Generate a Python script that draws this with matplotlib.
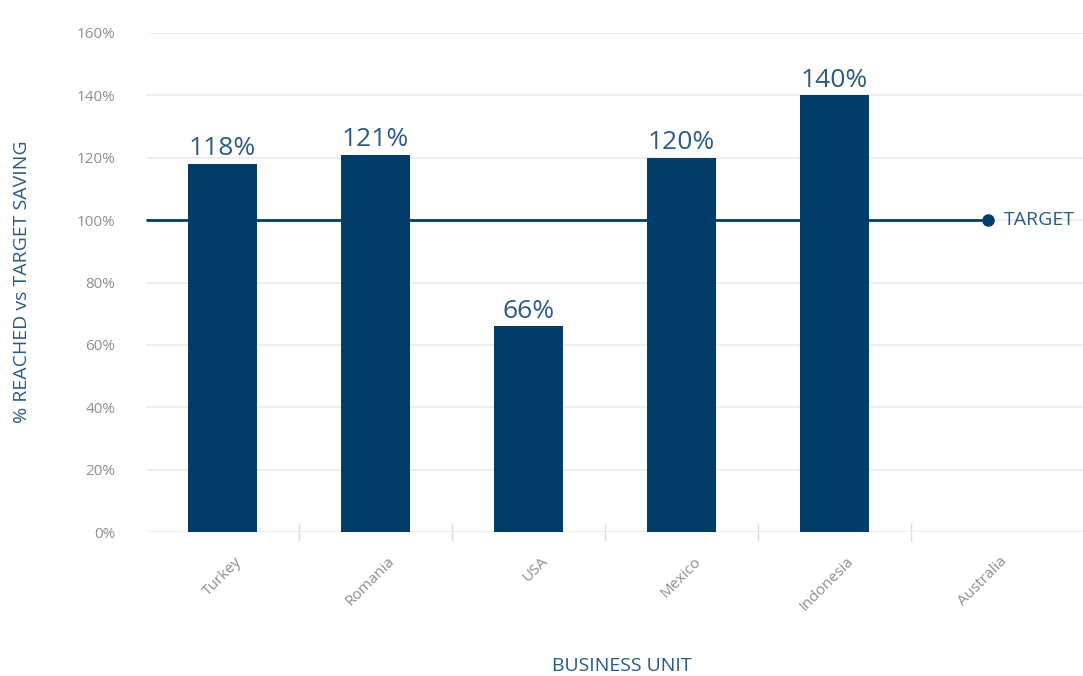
import matplotlib.pyplot as plt
import matplotlib.transforms as mtransforms
import numpy as np

plt.rcParams['font.family'] = ['Open Sans', 'DejaVu Sans']

# data
units = ['Turkey', 'Romania', 'USA', 'Mexico', 'Indonesia', 'Australia']
reached = [118, 121, 66, 120, 140, np.nan]
target = 100

navy = '#023d6a'
label_blue = '#2b5a85'
grid_gray = '#ebebeb'
tick_gray = '#8f8f8f'

fig = plt.figure(figsize=(10.83, 6.76), dpi=100)
ax = fig.add_axes([146 / 1083, 1 - 532 / 676, 937 / 1083, 499 / 676])

x = np.arange(len(units))
vals = np.array(reached, dtype=float)
has = ~np.isnan(vals)
bars = ax.bar(x[has], vals[has], width=0.45, color=navy, zorder=3)
for b, v in zip(bars, vals[has]):
    ax.text(b.get_x() + b.get_width() / 2, v + 0.8, f'{v:.0f}%', ha='center', va='bottom',
            fontsize=19, color=label_blue, zorder=4)

# target line with end marker
ax.plot([-0.5, 5.0], [target, target], color=navy, lw=2, zorder=2, solid_capstyle='butt')
ax.plot([5.0], [target], 'o', color=navy, ms=8, zorder=4)
ax.text(5.11, target, 'TARGET', va='center', ha='left', fontsize=14, color=label_blue)

ax.set_xlim(-0.5, 5.5 + 19 / 153)
ax.set_ylim(0, 160)
ax.set_yticks(np.arange(0, 161, 20))
ax.set_yticklabels([f'{t}%' for t in range(0, 161, 20)])
ax.yaxis.grid(True, color=grid_gray, lw=1.2, zorder=0)
ax.set_axisbelow(True)

ax.set_xticks(x)
ax.set_xticklabels(units, rotation=45, ha='right', rotation_mode='anchor')
ax.set_xticks(np.arange(0.5, 5.0, 1.0), minor=True)
ax.tick_params(axis='x', which='major', length=0, pad=20, labelsize=11, labelcolor=tick_gray)
ax.tick_params(axis='x', which='minor', direction='inout', length=13, width=1, color='#dddddd')
ax.tick_params(axis='y', length=0, pad=22, labelsize=11, labelcolor=tick_gray)
shift = mtransforms.ScaledTranslation(12 / 100, 6 / 100, fig.dpi_scale_trans)
for lab in ax.get_xticklabels():
    lab.set_transform(lab.get_transform() + shift)

for s in ax.spines.values():
    s.set_visible(False)

ax.set_ylabel('% REACHED vs TARGET SAVING', fontsize=14, color=label_blue, va='center')
ax.yaxis.set_label_coords(-(146 - 22) / 937, (532 - 282) / 499)
ax.set_xlabel('BUSINESS UNIT', fontsize=14, color=label_blue, va='center')
ax.xaxis.set_label_coords((622 - 146) / 937, -(666 - 532) / 499)

fig.savefig('out.png', dpi=100)
